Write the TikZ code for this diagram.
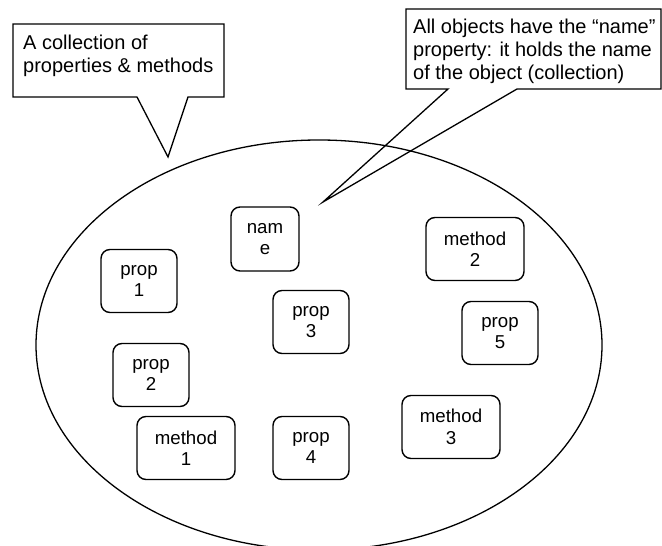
\documentclass[tikz,border=0pt]{standalone}
\usepackage{fontspec}
\setmainfont{Liberation Sans}
\usetikzlibrary{shapes.geometric}
\begin{document}
\begin{tikzpicture}[x=1bp,y=-1bp,
  obj/.style={draw, line width=1.4bp, rounded corners=9bp, align=center,
    minimum height=63bp, inner sep=0pt, font=\fontsize{18.67bp}{21.5bp}\selectfont},
  propbox/.style={obj, minimum width=76bp},
  methbox/.style={obj, minimum width=98bp},
  callout/.style={draw, line width=1.3bp, line join=miter},
  ctext/.style={align=left, anchor=north west, inner sep=0pt,
    font=\fontsize{20bp}{23bp}\selectfont}]
\useasboundingbox (0,0) rectangle (662,546);

% the collection
\node[draw, ellipse, line width=1.3bp, minimum width=566bp, minimum height=410bp, inner sep=0pt] (coll) at (319,345) {};

% members
\node[propbox, minimum width=68bp, minimum height=64bp] (nm) at (265,239) {nam\\e};
\node[propbox] (p1) at (139,281) {prop\\1};
\node[propbox] (p2) at (151,375) {prop\\2};
\node[propbox] (p3) at (311,322) {prop\\3};
\node[propbox] (p4) at (311,448) {prop\\4};
\node[propbox] (p5) at (500,333) {prop\\5};
\node[methbox] (m1) at (186,448) {method\\1};
\node[methbox] (m2) at (475,249) {method\\2};
\node[methbox] (m3) at (451,427) {method\\3};

% callout 1
\coordinate (t1) at (168,157);
\draw[callout] (13,24) -- (224,24) -- (224,97) -- (188,97) -- (t1) -- (137,97) -- (13,97) -- cycle;
\node[ctext] (c1) at (23,35) {A collection of\\properties \& methods};

% callout 2
\coordinate (t2) at (323,202);
\draw[callout] (406,9) -- (661,9) -- (661,89) -- (517,89) -- (t2) -- (448,89) -- (406,89) -- cycle;
\node[ctext] (c2) at (413,19) {All objects have the “name”\\property: it holds the name\\of the object (collection)};
\end{tikzpicture}
\end{document}
